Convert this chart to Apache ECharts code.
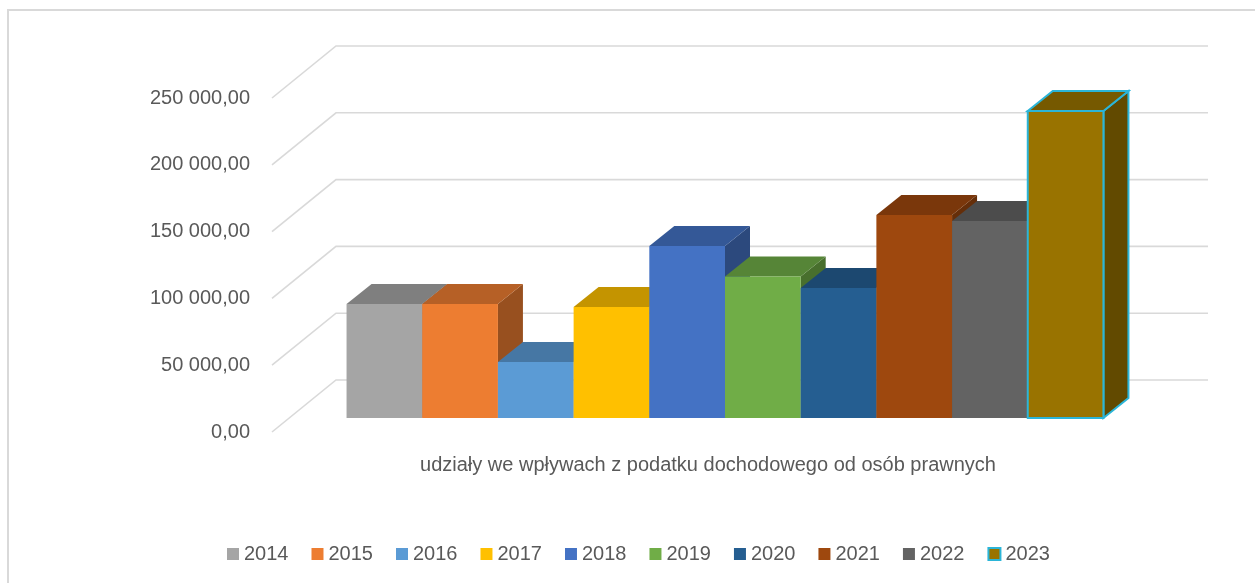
<!DOCTYPE html>
<html lang="pl">
<head>
    <meta charset="UTF-8">
    <script src="https://cdn.jsdelivr.net/npm/echarts@6/dist/echarts.min.js"></script>
    <title>udziały</title>
    <style>
        html, body {margin: 0; padding: 0; background: #fff;}
    </style>
</head>
<body>
<div id="main" style="width: 1255px;height: 583px;"></div>
<script>
    // dane
    var category = ['udziały we wpływach z podatku dochodowego od osób prawnych'];
    var years = ['2014', '2015', '2016', '2017', '2018', '2019', '2020', '2021', '2022', '2023'];
    var values = [85300, 85300, 41900, 83000, 128700, 106000, 97300, 152000, 147500, 229800];
    var yTicks = [0, 50000, 100000, 150000, 200000, 250000];

    var colors = ['#A5A5A5', '#ED7D31', '#5B9BD5', '#FFC000', '#4472C4', '#70AD47', '#255E91', '#9E480E', '#636363', '#997300'];

    // 3D "rzut" - glebokosc podlogi i slupkow (px)
    var DEPTH = [64, -52];
    var FRONT = [17, -14];
    var BAR_D = [25, -20];
    var GROUP = 0.868;

    function shade(hex, k) {
        var n = parseInt(hex.slice(1), 16);
        var r = Math.round(((n >> 16) & 255) * k);
        var g = Math.round(((n >> 8) & 255) * k);
        var b = Math.round((n & 255) * k);
        return 'rgb(' + r + ',' + g + ',' + b + ')';
    }

    function fmt(v) {
        var s = String(Math.round(v)).replace(/\B(?=(\d{3})+(?!\d))/g, ' ');
        return s + ',00';
    }

    // linie siatki: przekatna po podlodze + tylna sciana
    function renderGrid(params, api) {
        var cs = params.coordSys;
        var p = api.coord([0, api.value(0)]);
        var y = p[1];
        var x0 = cs.x, x1 = cs.x + cs.width;
        return {
            type: 'polyline',
            shape: {points: [[x0, y], [x0 + DEPTH[0], y + DEPTH[1]], [x1 + DEPTH[0], y + DEPTH[1]]]},
            style: {stroke: '#D9D9D9', lineWidth: 1.6, fill: null},
            silent: true
        };
    }

    function renderBar(params, api) {
        var idx = params.seriesIndex - 1;
        var base = api.coord([api.value(0), 0]);
        var top = api.coord([api.value(0), api.value(1)]);
        var band = api.size([1, 0])[0];
        var bw = band * GROUP / years.length;
        var x0 = base[0] - band * GROUP / 2 + idx * bw + FRONT[0];
        var x1 = x0 + bw;
        var yb = base[1] + FRONT[1];
        var yt = top[1] + FRONT[1];
        var c = colors[idx];
        var last = idx === years.length - 1;
        var stroke = last ? '#2BB5D8' : null;
        var lw = last ? 2 : 0;
        return {
            type: 'group',
            children: [
                {
                    type: 'polygon',
                    shape: {points: [[x1, yt], [x1 + BAR_D[0], yt + BAR_D[1]], [x1 + BAR_D[0], yb + BAR_D[1]], [x1, yb]]},
                    style: {fill: shade(c, 0.64), stroke: stroke, lineWidth: lw}
                },
                {
                    type: 'polygon',
                    shape: {points: [[x0, yt], [x0 + BAR_D[0], yt + BAR_D[1]], [x1 + BAR_D[0], yt + BAR_D[1]], [x1, yt]]},
                    style: {fill: shade(c, 0.77), stroke: stroke, lineWidth: lw}
                },
                {
                    type: 'rect',
                    shape: {x: x0, y: yt, width: bw, height: yb - yt},
                    style: {fill: c, stroke: stroke, lineWidth: lw}
                }
            ]
        };
    }

    var series = [{
        name: 'siatka',
        type: 'custom',
        renderItem: renderGrid,
        data: yTicks.map(function (v) { return [v]; }),
        encode: {y: 0},
        z: 1
    }];

    for (var i = 0; i < years.length; i++) {
        var st = {color: colors[i]};
        if (i === years.length - 1) {
            st.borderColor = '#2BB5D8';
            st.borderWidth = 2;
        }
        series.push({
            name: years[i],
            type: 'custom',
            renderItem: renderBar,
            data: [[0, values[i]]],
            encode: {x: 0, y: 1},
            itemStyle: st,
            z: 2
        });
    }

    var myChart = echarts.init(document.getElementById('main'));
    var option = {
        animation: false,
        backgroundColor: '#fff',
        textStyle: {fontFamily: 'Liberation Sans, Arial, sans-serif'},
        graphic: [{
            type: 'rect',
            shape: {x: 8, y: 10, width: 1400, height: 800},
            style: {fill: null, stroke: '#D9D9D9', lineWidth: 2},
            silent: true
        }],
        grid: {left: 272, right: 111, top: 98, bottom: 151},
        legend: {
            data: years,
            left: 222,
            top: 539,
            icon: 'rect',
            itemWidth: 12,
            itemHeight: 12,
            itemGap: 23,
            textStyle: {color: '#595959', fontSize: 20}
        },
        xAxis: {
            type: 'category',
            data: category,
            axisLine: {show: false},
            axisTick: {show: false},
            axisLabel: {color: '#595959', fontSize: 20, margin: 23}
        },
        yAxis: {
            type: 'value',
            min: 0,
            max: 250000,
            interval: 50000,
            axisLine: {show: false},
            axisTick: {show: false},
            splitLine: {show: false},
            axisLabel: {color: '#595959', fontSize: 20, margin: 22, formatter: fmt}
        },
        series: series
    };
    myChart.setOption(option);
</script>
</body>
</html>
